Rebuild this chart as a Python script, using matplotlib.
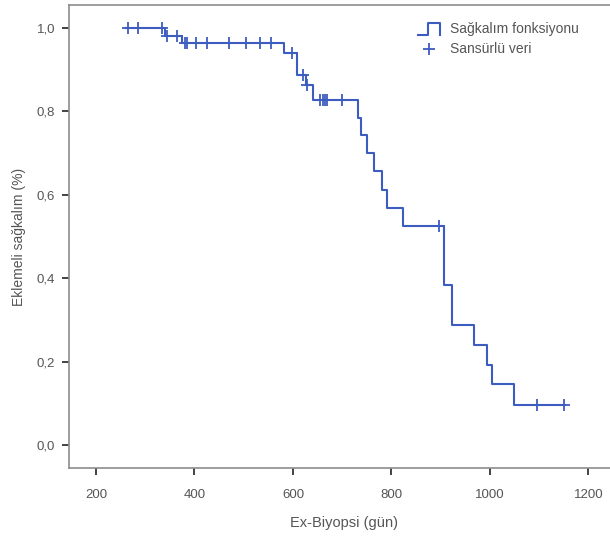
import numpy as np
import matplotlib
matplotlib.use("Agg")
import matplotlib.pyplot as plt
from matplotlib.ticker import FuncFormatter
from matplotlib.legend_handler import HandlerBase
from matplotlib.lines import Line2D

plt.rcParams['font.family'] = ['Liberation Sans', 'DejaVu Sans']

# Kaplan-Meier steps: (time, survival after the step)
start_time = 261
event_times = [340, 375, 582, 608, 626, 641, 732, 738, 750, 765, 781, 791,
               823, 907, 923, 967, 994, 1004, 1049]
event_surv = [0.982, 0.964, 0.940, 0.887, 0.863, 0.827, 0.784, 0.743, 0.700,
              0.657, 0.611, 0.568, 0.525, 0.384, 0.288, 0.240, 0.192, 0.146,
              0.096]
end_time = 1152

# censored observations (time)
censor_times = [265, 285, 335, 344, 364, 381, 384, 403, 425, 470, 505, 533,
                555, 598, 620, 628, 655, 660, 664, 669, 700, 897, 1095, 1150]

x_ticks = [200, 400, 600, 800, 1000, 1200]
y_ticks = [0.0, 0.2, 0.4, 0.6, 0.8, 1.0]

BLUE = '#3d5cc0'
GREY = '#555555'
FS = 9.5

xs = [start_time] + event_times + [end_time]
ys = [1.0] + event_surv + [event_surv[-1]]


def surv_at(t):
    s = 1.0
    for et, ev in zip(event_times, event_surv):
        if t >= et:
            s = ev
    return s


cens_y = [surv_at(t) for t in censor_times]


class StepIcon(HandlerBase):
    # legend icon drawn as a little step: low -> up -> high -> down
    def create_artists(self, legend, orig_handle, xdescent, ydescent,
                       width, height, fontsize, trans):
        x0, x1 = -xdescent, -xdescent + width
        lo, hi = -ydescent - 0.15 * height, -ydescent + 1.05 * height
        xm = x0 + 0.45 * width
        ln = Line2D([x0, xm, xm, x1, x1], [lo, lo, hi, hi, lo],
                    color=orig_handle.get_color(), lw=orig_handle.get_linewidth(),
                    transform=trans)
        return [ln]


fig = plt.figure(figsize=(6.10, 5.36), dpi=100)
ax = fig.add_axes([69 / 610, 68 / 536, 551 / 610, 463 / 536])

step_line, = ax.step(xs, ys, where='post', color=BLUE, lw=1.5)
cens, = ax.plot(censor_times, cens_y, ls='none', marker='+', color=BLUE, ms=8,
                mew=1.3)

ax.set_xlim(145.2, 1264)
ax.set_ylim(-0.0552, 1.0552)
ax.set_xticks(x_ticks)
ax.set_yticks(y_ticks)
ax.yaxis.set_major_formatter(FuncFormatter(lambda v, p: f'{v:.1f}'.replace('.', ',')))

for s in ax.spines.values():
    s.set_color('#8c8c8c')
    s.set_linewidth(1.2)
ax.tick_params(direction='out', length=5, width=1.2, color='#222222',
               labelsize=FS, labelcolor=GREY)
ax.tick_params(axis='x', pad=10)
ax.tick_params(axis='y', pad=5)

ax.set_xlabel('Ex-Biyopsi (gün)', fontsize=10.5, color=GREY, labelpad=11)
ax.set_ylabel('Eklemeli sağkalım (%)', fontsize=10, color=GREY, labelpad=8)

leg = ax.legend([step_line, cens], ['Sağkalım fonksiyonu', 'Sansürlü veri'],
                handler_map={step_line: StepIcon()},
                loc='upper left', bbox_to_anchor=(0.61, 0.99), frameon=False,
                fontsize=10, handlelength=1.6, handletextpad=0.75,
                labelspacing=0.45)
for t in leg.get_texts():
    t.set_color(GREY)

fig.savefig('out.png', dpi=100)
